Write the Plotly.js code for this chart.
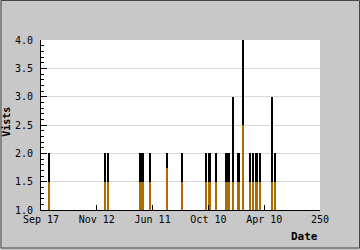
<!DOCTYPE html>
<html>
<head>
<meta charset="utf-8">
<script src="https://cdn.plot.ly/plotly-3.0.1.min.js"></script>
<style>html,body{margin:0;padding:0;background:#c8c8c8;}#chart{width:360px;height:250px;}</style>
</head>
<body>
<div id="chart"></div>
<script>
// day index along the axis (0..250)
const dayIndex = [7, 57, 60, 89, 91, 98, 113, 126, 148, 151, 157, 166, 168, 172, 177, 181, 187, 190, 193, 196, 207, 210];
// total visits per day
const visits   = [2, 2, 2, 2, 2, 2, 2, 2, 2, 2, 2, 2, 2, 3, 2, 4, 2, 2, 2, 2, 3, 2];
// lower (orange) series
const lower    = [1.5, 1.5, 1.5, 1.5, 1.5, 1.5, 1.75, 1.5, 1.5, 1.5, 1.5, 1.5, 1.5, 1.5, 1.5, 2.5, 1.5, 1.5, 1.5, 1.5, 1.5, 1.5];
const tickVals = [0, 50, 100, 150, 200, 250];
const tickText = ['Sep 17', 'Nov 12', 'Jun 11', 'Oct 10', 'Apr 10', '250'];

const mono = 'DejaVu Sans Mono, Liberation Mono, monospace';

const traces = [
  {type: 'bar', x: dayIndex, y: visits.map(v => v - 1), base: 1, width: 2,
   marker: {color: '#000000', line: {width: 0}}, hoverinfo: 'skip'},
  {type: 'bar', x: dayIndex, y: lower.map(v => v - 1), base: 1, width: 2,
   marker: {color: 'rgba(240,150,0,0.72)', line: {width: 0}}, hoverinfo: 'skip'}
];

const layout = {
  width: 360, height: 250,
  margin: {l: 41, r: 40, t: 40, b: 40},
  paper_bgcolor: '#c8c8c8', plot_bgcolor: '#ffffff',
  showlegend: false, barmode: 'overlay', bargap: 0,
  font: {family: mono, size: 10, color: '#000'},
  xaxis: {
    range: [0, 250], tickvals: tickVals, ticktext: tickText,
    ticks: 'inside', ticklen: 5, tickcolor: '#000', tickwidth: 1,
    showline: true, linecolor: '#000', linewidth: 1, showgrid: false, zeroline: false,
    tickfont: {family: mono, size: 10, color: '#000'}, fixedrange: true
  },
  yaxis: {
    range: [1, 4], dtick: 0.5, tick0: 1, tickformat: '.1f',
    ticks: 'inside', ticklen: 6, tickcolor: '#000', tickwidth: 1,
    ticklabelstandoff: 5,
    minor: {dtick: 0.1, ticks: 'inside', ticklen: 3, tickcolor: '#000', showgrid: false},
    showline: true, linecolor: '#000', linewidth: 1,
    showgrid: true, gridcolor: '#d9d9d9', gridwidth: 1, zeroline: false,
    tickfont: {family: mono, size: 10, color: '#000'}, fixedrange: true
  },
  annotations: [
    {text: '<b>Date</b>', xref: 'paper', yref: 'paper', x: 0.946, y: -0.153,
     xanchor: 'center', yanchor: 'middle', showarrow: false,
     font: {family: mono, size: 11, color: '#000'}},
    {text: '<b>Vists</b>', xref: 'paper', yref: 'paper', x: -0.125, y: 0.52,
     xanchor: 'center', yanchor: 'middle', showarrow: false, textangle: -90,
     font: {family: mono, size: 10, color: '#000'}}
  ],
  shapes: [
    {type: 'rect', xref: 'paper', yref: 'paper',
     x0: -40 / 279, x1: 318.5 / 279, y0: -38 / 170, y1: 209.5 / 170,
     line: {color: '#444', width: 1}, fillcolor: 'rgba(0,0,0,0)', layer: 'above'}
  ]
};

Plotly.newPlot('chart', traces, layout, {staticPlot: true, displayModeBar: false});
</script>
</body>
</html>
